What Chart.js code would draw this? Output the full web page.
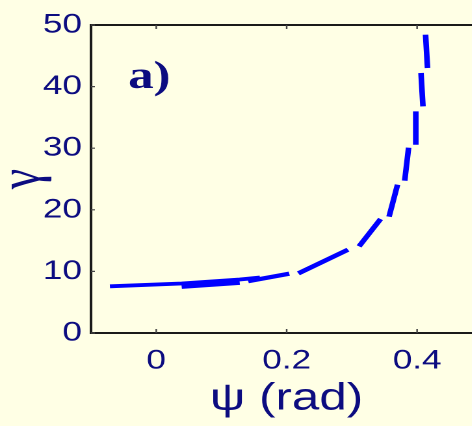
<!DOCTYPE html>
<html>
<head>
<meta charset="utf-8">
<title>gamma vs psi</title>
<script src="https://cdn.jsdelivr.net/npm/chart.js@4.4.1/dist/chart.umd.min.js"></script>
<style>
    html, body { margin: 0; padding: 0; background: #ffffe5; overflow: hidden; }
    /* the figure is drawn narrow and widened, like the old exported plot */
    #wrap { width: 372px; height: 426px; transform: scaleX(1.3); transform-origin: 0 0; }
</style>
</head>
<body>
<div id="wrap"><canvas id="chartGamma" width="372" height="426"></canvas></div>
<script>
"use strict";

// axis ranges and ticks
const psiMin = -0.1;
const psiMax = 0.5;
const psiTicks = [0, 0.2, 0.4];
const psiTickLabels = ['0', '0.2', '0.4'];
const gammaMin = 0;
const gammaMax = 50;
const gammaTicks = [0, 10, 20, 30, 40, 50];
const gammaTickLabels = ['0', '10', '20', '30', '40', '50'];

// solid branch
const solidPsi = [-0.071, 0.039, 0.128, 0.159];
const solidGamma = [7.58, 8.04, 8.69, 9.0];

// dashed branch, one [start, end] pair per dash
const dashPsi = [
    [0.039, 0.128], [0.141, 0.204], [0.218, 0.294], [0.311, 0.344], [0.357, 0.370],
    [0.381, 0.387], [0.398, 0.398], [0.409, 0.406], [0.416, 0.413]
];
const dashGamma = [
    [7.52, 8.17], [8.41, 9.63], [9.68, 13.52], [14.06, 18.51], [18.88, 24.07],
    [24.72, 30.08], [30.57, 35.97], [36.79, 42.21], [43.02, 48.43]
];

const panelLabel = 'a)';
const panelAt = [-0.043, 39.8];

const bgColor = '#ffffe5';
const textColor = '#0c0c80';
const axisColor = '#1a1a1a';
const lineBlue = '#0000ff';

const solidData = solidPsi.map((p, i) => ({x: p, y: solidGamma[i]}));

// null y between dashes breaks the line
const dashData = [];
dashPsi.forEach((pair, i) => {
    if (i > 0) {
        dashData.push({x: (dashPsi[i - 1][1] + pair[0]) / 2, y: null});
    }
    dashData.push({x: pair[0], y: dashGamma[i][0]});
    dashData.push({x: pair[1], y: dashGamma[i][1]});
});

//--------------------------------frame, inward ticks, panel letter---------------------------------
const frame = {
    id: 'frame',
    beforeDraw(chart) {
        const ctx = chart.ctx;
        ctx.save();
        ctx.fillStyle = bgColor;
        ctx.fillRect(0, 0, chart.width, chart.height);
        ctx.restore();
    },
    afterDraw(chart) {
        const {ctx, chartArea: area, scales: {x, y}} = chart;
        ctx.save();
        ctx.strokeStyle = axisColor;
        ctx.lineWidth = 2;
        ctx.beginPath();
        ctx.moveTo(area.left - 1, area.top);
        ctx.lineTo(area.right, area.top);
        ctx.stroke();

        ctx.strokeStyle = '#444';
        ctx.lineWidth = 1.2;
        ctx.beginPath();
        x.ticks.forEach(t => {
            const px = x.getPixelForValue(t.value);
            ctx.moveTo(px, area.bottom);
            ctx.lineTo(px, area.bottom - 4);
            ctx.moveTo(px, area.top);
            ctx.lineTo(px, area.top + 4);
        });
        y.ticks.forEach(t => {
            const py = y.getPixelForValue(t.value);
            ctx.moveTo(area.left, py);
            ctx.lineTo(area.left + 3, py);
        });
        ctx.stroke();

        ctx.fillStyle = textColor;
        ctx.font = 'bold 39px "Liberation Serif"';
        ctx.textAlign = 'left';
        ctx.textBaseline = 'alphabetic';
        ctx.fillText(panelLabel, x.getPixelForValue(panelAt[0]), y.getPixelForValue(panelAt[1]));
        ctx.restore();
    }
};

//--------------------------------gamma chart---------------------------------
const gamma = document.getElementById('chartGamma').getContext('2d');
var chartGamma = new Chart(gamma, {
    type: 'line',
    data: {
        datasets: [{
            data: solidData,
            borderColor: lineBlue,
            borderWidth: 3.8,
            pointRadius: 0,
            tension: 0
        }, {
            data: dashData,
            borderColor: lineBlue,
            borderWidth: 4.3,
            pointRadius: 0,
            tension: 0,
            spanGaps: false
        }]
    },
    options: {
        responsive: false,
        devicePixelRatio: 2,
        animation: false,
        events: [],
        layout: {padding: {top: 25, right: 1, left: 0, bottom: 0}},
        plugins: {legend: {display: false}, tooltip: {enabled: false}},
        scales: {
            x: {
                type: 'linear',
                min: psiMin,
                max: psiMax,
                afterBuildTicks: s => { s.ticks = psiTicks.map(v => ({value: v})); },
                afterFit: s => { s.height = 93; },
                grid: {display: false, drawTicks: false},
                border: {display: true, color: axisColor, width: 2},
                ticks: {
                    color: textColor,
                    font: {family: 'Liberation Sans', size: 27},
                    padding: 12,
                    maxRotation: 0,
                    callback: (v, i) => psiTickLabels[i]
                },
                title: {
                    display: true,
                    text: 'ψ (rad)',
                    color: textColor,
                    font: {family: 'Liberation Sans', size: 38, lineHeight: 1},
                    padding: {top: 0, bottom: 8}
                }
            },
            y: {
                type: 'linear',
                min: gammaMin,
                max: gammaMax,
                afterBuildTicks: s => { s.ticks = gammaTicks.map(v => ({value: v})); },
                afterFit: s => { s.width = 70; },
                grid: {display: false, drawTicks: false},
                border: {display: true, color: axisColor, width: 2},
                ticks: {
                    color: textColor,
                    font: {family: 'Liberation Sans', size: 27},
                    padding: 7,
                    callback: (v, i) => gammaTickLabels[i]
                },
                title: {
                    display: true,
                    text: 'γ',
                    color: textColor,
                    font: {family: 'Liberation Serif', size: 46, lineHeight: 0.6},
                    padding: {top: 4, bottom: 0}
                }
            }
        }
    },
    plugins: [frame]
});
</script>
</body>
</html>
